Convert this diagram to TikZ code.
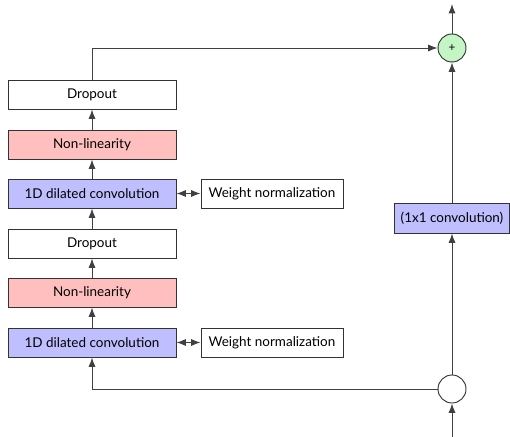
\documentclass[tikz,border=0pt]{standalone}
\usepackage{fontspec}
\setmainfont{Lato}
\usetikzlibrary{arrows.meta}
\definecolor{convblue}{RGB}{191,191,255}
\definecolor{nlred}{RGB}{255,191,191}
\definecolor{addgreen}{RGB}{196,245,196}
\tikzset{
  layer/.style={draw=black!80,line width=0.8pt,minimum width=5.04cm,minimum height=0.87cm,inner sep=0pt,font=\fontsize{11.5}{13}\selectfont},
  wnorm/.style={draw=black!80,line width=0.8pt,minimum width=4.26cm,minimum height=0.87cm,inner sep=0pt,font=\fontsize{11.5}{13}\selectfont},
  junction/.style={circle,draw=black!80,line width=0.8pt,minimum size=0.84cm,inner sep=0pt,font=\fontsize{10}{12}\selectfont},
  flow/.style={draw=black!75,line width=0.8pt,-{Latex[length=8pt,width=6pt]}},
  link/.style={draw=black!75,line width=0.8pt,{Latex[length=8pt,width=6pt]}-{Latex[length=8pt,width=6pt]}}
}
\begin{document}
\begin{tikzpicture}
\useasboundingbox (0,0) rectangle (15.3,13.11);

\node[layer,fill=convblue] (conva) at (2.76,2.835) {1D dilated convolution};
\node[layer,fill=nlred] (nla) at (2.76,4.335) {Non-linearity};
\node[layer] (dropa) at (2.76,5.805) {Dropout};
\node[layer,fill=convblue] (convb) at (2.76,7.305) {1D dilated convolution};
\node[layer,fill=nlred] (nlb) at (2.76,8.775) {Non-linearity};
\node[layer] (dropb) at (2.76,10.275) {Dropout};

\node[wnorm] (wna) at (8.16,2.835) {Weight normalization};
\node[wnorm] (wnb) at (8.16,7.305) {Weight normalization};

\node[junction] (split) at (13.56,1.44) {};
\node[junction,fill=addgreen] (add) at (13.56,11.67) {+};
\node[layer,fill=convblue,minimum width=3.45cm,minimum height=0.9cm] (skip) at (13.56,6.57) {(1x1 convolution)};

\coordinate (input) at (13.56,0);
\coordinate (output) at (13.56,12.99);

\draw[flow] (input) -- (split);
\draw[flow] (split.west) -| (conva.south);
\draw[flow] (conva) -- (nla);
\draw[flow] (nla) -- (dropa);
\draw[flow] (dropa) -- (convb);
\draw[flow] (convb) -- (nlb);
\draw[flow] (nlb) -- (dropb);
\draw[flow] (dropb.north) |- (add.west);
\draw[link] (conva) -- (wna);
\draw[link] (convb) -- (wnb);
\draw[flow] (split) -- (skip);
\draw[flow] (skip) -- (add);
\draw[flow] (add) -- (output);
\end{tikzpicture}
\end{document}
